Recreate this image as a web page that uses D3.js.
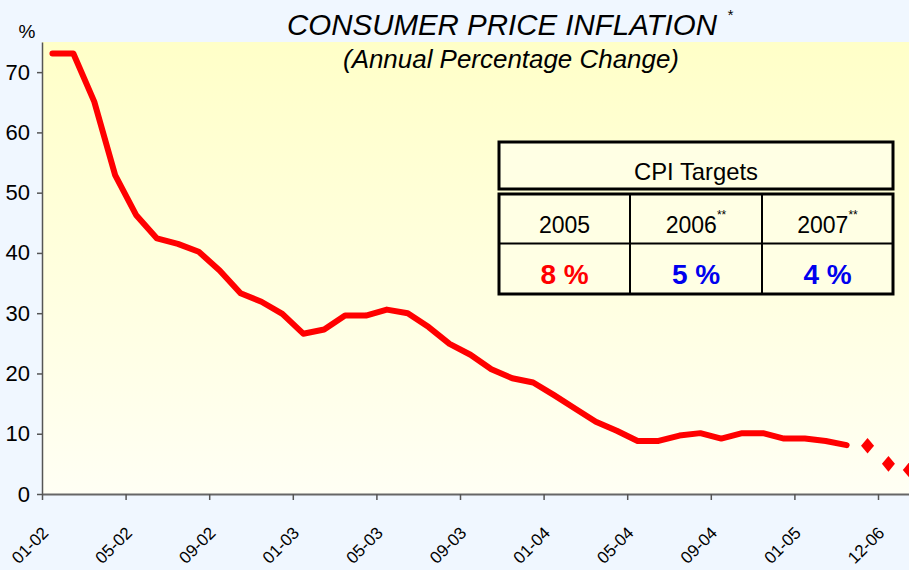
<!DOCTYPE html>
<html>
<head>
<meta charset="utf-8">
<script src="https://cdn.jsdelivr.net/npm/d3@7"></script>
<style>
  body { margin: 0; background: #f0f7ff; }
  svg { display: block; }
  text { font-family: "Liberation Sans", Arial, sans-serif; fill: #000; }
</style>
</head>
<body>
<svg id="chart"></svg>
<script>
// monthly categories, 01-02 .. 03-05, then the year-end targets
var months = ["01-02","02-02","03-02","04-02","05-02","06-02","07-02","08-02","09-02","10-02","11-02","12-02",
              "01-03","02-03","03-03","04-03","05-03","06-03","07-03","08-03","09-03","10-03","11-03","12-03",
              "01-04","02-04","03-04","04-04","05-04","06-04","07-04","08-04","09-04","10-04","11-04","12-04",
              "01-05","02-05","03-05","12-05","12-06","12-07"];
var tickLabels = ["01-02","05-02","09-02","01-03","05-03","09-03","01-04","05-04","09-04","01-05","12-06"];

// annual cpi change, %
var cpi = [73.1, 73.1, 65.1, 52.9, 46.3, 42.4, 41.5, 40.2, 37.1, 33.3, 31.9, 29.9,
           26.6, 27.3, 29.6, 29.6, 30.6, 30.0, 27.7, 24.9, 23.1, 20.7, 19.2, 18.5,
           16.4, 14.2, 12.0, 10.5, 8.8, 8.8, 9.7, 10.1, 9.2, 10.1, 10.1, 9.2,
           9.2, 8.8, 8.1];

// targets
var targetYears = ["2005", "2006", "2007"];
var targetMarks = ["", "**", "**"];
var targetValues = [8, 5, 4];
var targetMonths = ["12-05", "12-06", "12-07"];
var yTicks = [0, 10, 20, 30, 40, 50, 60, 70];

var width = 909,
    height = 570;

var svg = d3.select('#chart')
  .attr('width', width)
  .attr('height', height);

svg.append('rect')
  .attr('width', width).attr('height', height)
  .attr('fill', '#f0f7ff');

var grad = svg.append('defs').append('linearGradient')
  .attr('id', 'bg').attr('x1', 0).attr('y1', 0).attr('x2', 0).attr('y2', 1);
grad.append('stop').attr('offset', '0%').attr('stop-color', '#ffffc8');
grad.append('stop').attr('offset', '100%').attr('stop-color', '#fffff4');

// x is a category index, ticks sit between categories
var x = d3.scaleLinear()
  .domain([0, months.length])
  .range([42, 42 + months.length * 20.9]);

var y = d3.scaleLinear()
  .domain([0, 75])
  .range([494, 42]);

svg.append('rect')
  .attr('x', x(0)).attr('y', y(75))
  .attr('width', x(months.length) - x(0))
  .attr('height', y(0) - y(75))
  .attr('fill', 'url(#bg)');

// Y axis
var yAxis = svg.append('g')
  .attr('transform', 'translate(' + x(0) + ',0)')
  .call(d3.axisLeft(y).tickValues(yTicks).tickSize(5).tickSizeOuter(0).tickPadding(7));
yAxis.select('.domain').attr('stroke', '#555').attr('stroke-width', 1.5);
yAxis.selectAll('.tick line').attr('stroke', '#555').attr('stroke-width', 1.5);
yAxis.selectAll('.tick text')
  .style('font-family', '"Liberation Sans Narrow", "Arial Narrow", "Liberation Sans", sans-serif')
  .style('font-size', '22px');

// X axis
var tickIdx = tickLabels.map(function(l) { return months.indexOf(l); });
var xAxis = svg.append('g')
  .attr('transform', 'translate(0,' + y(0) + ')')
  .call(d3.axisBottom(x).tickValues(tickIdx).tickSize(6).tickSizeOuter(0)
    .tickFormat(function(d) { return months[d]; }));
xAxis.select('.domain').attr('stroke', '#666').attr('stroke-width', 2);
xAxis.selectAll('.tick line').attr('stroke', '#555').attr('stroke-width', 1.5);
xAxis.selectAll('.tick text')
  .style('font-size', '17px')
  .attr('text-anchor', 'end')
  .attr('dy', null)
  .attr('y', 0)
  .attr('transform', 'translate(7,40) rotate(-45)');

// the line
var line = d3.line()
  .x(function(d, i) { return x(i + 0.5); })
  .y(function(d) { return y(d); });

svg.append('path')
  .datum(cpi)
  .attr('d', line)
  .attr('fill', 'none')
  .attr('stroke', '#ff0000')
  .attr('stroke-width', 6)
  .attr('stroke-linejoin', 'round')
  .attr('stroke-linecap', 'round');

// target diamonds
svg.selectAll('path.target')
  .data(targetValues)
  .enter()
  .append('path')
    .attr('class', 'target')
    .attr('d', d3.symbol().type(d3.symbolSquare).size(85))
    .attr('transform', function(d, i) {
      return 'translate(' + x(months.indexOf(targetMonths[i]) + 0.5) + ',' + y(d) + ') scale(1,1.2) rotate(45)';
    })
    .attr('fill', '#ff0000');

// titles
svg.append('text')
  .attr('x', 287).attr('y', 35)
  .attr('textLength', 430).attr('lengthAdjust', 'spacingAndGlyphs')
  .style('font-size', '30px').style('font-style', 'italic')
  .text('CONSUMER PRICE INFLATION');
svg.append('text')
  .attr('x', 727).attr('y', 20)
  .style('font-size', '15px').style('font-style', 'italic')
  .text('*');
svg.append('text')
  .attr('x', 343).attr('y', 68)
  .attr('textLength', 336).attr('lengthAdjust', 'spacingAndGlyphs')
  .style('font-size', '25px').style('font-style', 'italic')
  .text('(Annual Percentage Change)');
svg.append('text')
  .attr('x', 27).attr('y', 38)
  .attr('text-anchor', 'middle')
  .style('font-size', '19px')
  .text('%');

// CPI targets table
var tbl = svg.append('g');
var tx0 = 499, tx1 = 893;
var colX = [tx0, 630, 762, tx1];
tbl.append('rect')
  .attr('x', tx0).attr('y', 142).attr('width', tx1 - tx0).attr('height', 47)
  .attr('fill', '#ffffe4').attr('stroke', '#000').attr('stroke-width', 3);
tbl.append('rect')
  .attr('x', tx0).attr('y', 194).attr('width', tx1 - tx0).attr('height', 100)
  .attr('fill', '#ffffe4').attr('stroke', '#000').attr('stroke-width', 3);
tbl.append('line')
  .attr('x1', tx0).attr('x2', tx1).attr('y1', 243.5).attr('y2', 243.5)
  .attr('stroke', '#000').attr('stroke-width', 2);
tbl.selectAll('line.col')
  .data([1, 2])
  .enter()
  .append('line')
    .attr('class', 'col')
    .attr('x1', function(d) { return colX[d]; })
    .attr('x2', function(d) { return colX[d]; })
    .attr('y1', 194).attr('y2', 294)
    .attr('stroke', '#000').attr('stroke-width', 2);

tbl.append('text')
  .attr('x', (tx0 + tx1) / 2).attr('y', 180)
  .attr('text-anchor', 'middle')
  .style('font-size', '24px')
  .attr('textLength', 124).attr('lengthAdjust', 'spacingAndGlyphs')
  .text('CPI Targets');

targetYears.forEach(function(yr, i) {
  var cx = (colX[i] + colX[i + 1]) / 2;
  var t = tbl.append('text')
    .attr('x', cx).attr('y', 233)
    .attr('text-anchor', 'middle')
    .style('font-size', '23px');
  t.append('tspan').text(yr);
  if (targetMarks[i]) {
    t.append('tspan').attr('dy', -14).style('font-size', '12px').text(targetMarks[i]);
  }
  tbl.append('text')
    .attr('x', cx).attr('y', 284)
    .attr('text-anchor', 'middle')
    .style('font-size', '28px').style('font-weight', 'bold')
    .style('fill', i === 0 ? '#ff0000' : '#0000ee')
    .text(targetValues[i] + ' %');
});
</script>
</body>
</html>
